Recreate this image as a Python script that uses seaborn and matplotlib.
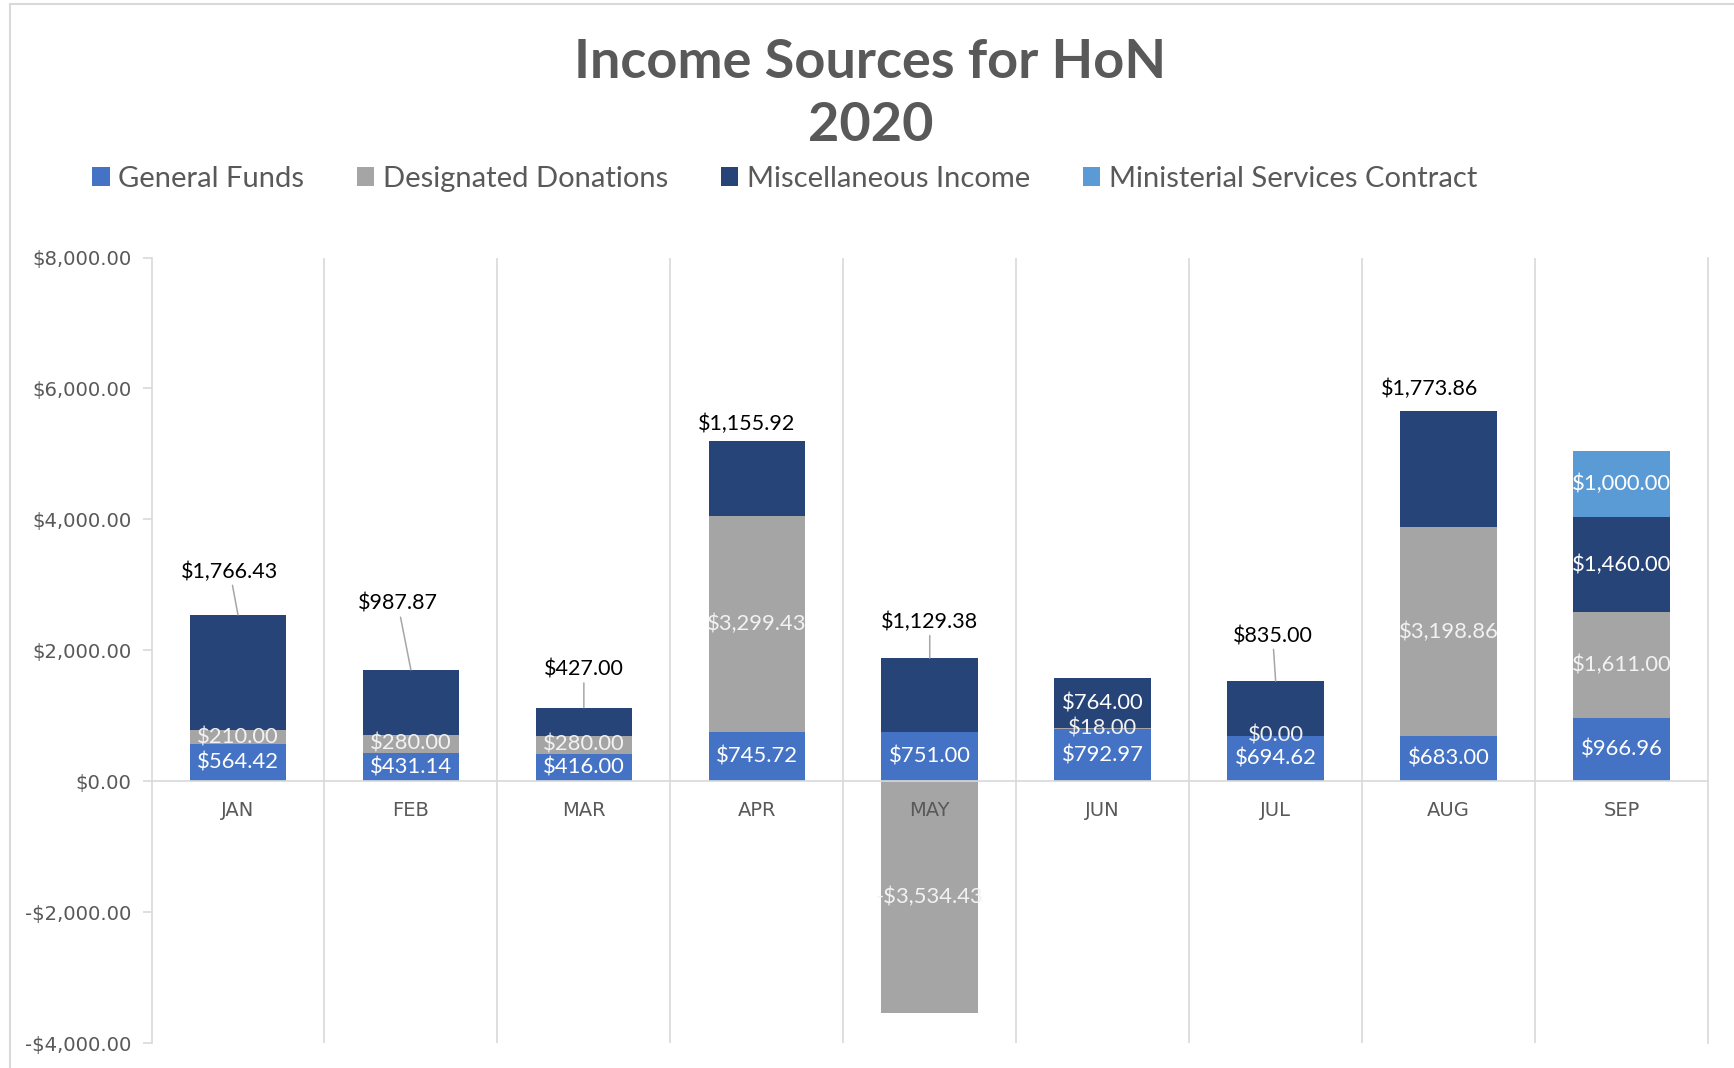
import numpy as np
import pandas as pd
import seaborn as sns
import matplotlib
matplotlib.use("Agg")
import matplotlib.pyplot as plt
from matplotlib.patches import Patch, Rectangle
from matplotlib.ticker import FuncFormatter, FixedLocator

# ---------------- data ----------------
months = ["JAN", "FEB", "MAR", "APR", "MAY", "JUN", "JUL", "AUG", "SEP"]
general_funds = [564.42, 431.14, 416.00, 745.72, 751.00, 792.97, 694.62, 683.00, 966.96]
designated_donations = [210.00, 280.00, 280.00, 3299.43, -3534.43, 18.00, 0.00, 3198.86, 1611.00]
misc_income = [1766.43, 987.87, 427.00, 1155.92, 1129.38, 764.00, 835.00, 1773.86, 1460.00]
ministerial = [None, None, None, None, None, None, None, None, 1000.00]

series_names = ["General Funds", "Designated Donations", "Miscellaneous Income",
                "Ministerial Services Contract"]
series_values = [general_funds, designated_donations, misc_income, ministerial]
series_colors = ["#4472C4", "#A5A5A5", "#264478", "#5B9BD5"]
label_colors = ["#FFFFFF", "#F2F2F2", "#FFFFFF", "#FFFFFF"]

# Misc income labels moved outside (offset px from bar top, leader line flag); None = inside
misc_outside = [(-8, 43, True), (-13, 66, True), (0, 38, True), (-10, 17, False),
                (0, 36, True), None, (-3, 45, True), (-19, 22, False), None]

# ---------------- style ----------------
sns.set_theme(style="white")
plt.rcParams["font.family"] = ["Lato", "DejaVu Sans"]

fig = plt.figure(figsize=(17.34, 10.68), dpi=100)
ax = fig.add_axes([151.5 / 1734, 1 - 1043 / 1068, (1708 - 151.5) / 1734, (1043 - 257.5) / 1068])

bar_w = 0.558
pos_bottom = np.zeros(len(months))
neg_bottom = np.zeros(len(months))
for name, vals, col, lcol in zip(series_names, series_values, series_colors, label_colors):
    v = np.array([np.nan if x is None else x for x in vals], dtype=float)
    vplot = np.nan_to_num(v)
    bottom = np.where(vplot >= 0, pos_bottom, neg_bottom)
    df = pd.DataFrame({"month": months, "value": vplot})
    sns.barplot(data=df, x="month", y="value", order=months, bottom=bottom,
                color=col, saturation=1, width=bar_w, errorbar=None,
                linewidth=0, ax=ax, zorder=1)
    for i, val in enumerate(v):
        if np.isnan(val):
            continue
        txt = f"${val:,.2f}" if val >= 0 else f"-${abs(val):,.2f}"
        top = bottom[i] + val
        if name == "Miscellaneous Income" and misc_outside[i] is not None:
            dx, dy, leader = misc_outside[i]
            ax.annotate(txt, xy=(i, top), xytext=(dx, dy), textcoords="offset pixels",
                        ha="center", va="center", fontsize=15.5, color="#000000",
                        zorder=4,
                        arrowprops=(dict(arrowstyle="-", color="#A6A6A6", lw=1.1,
                                         shrinkA=0, shrinkB=0) if leader else None))
        else:
            ax.text(i, bottom[i] + val / 2, txt, ha="center", va="center",
                    fontsize=15.8, color=lcol, zorder=4)
    pos_bottom = pos_bottom + np.where(vplot > 0, vplot, 0)
    neg_bottom = neg_bottom + np.where(vplot < 0, vplot, 0)

# ---------------- axes ----------------
ax.set_xlim(-0.5, len(months) - 0.5)
ax.set_ylim(-4000, 8000)
ax.set_yticks(np.arange(-4000, 8001, 2000))
ax.yaxis.set_major_formatter(FuncFormatter(
    lambda v, p: f"${v:,.2f}" if v >= 0 else f"-${abs(v):,.2f}"))
ax.set_xlabel("")
ax.set_ylabel("")

grid_col = "#D9D9D9"
ax.set_axisbelow(False)
ax.spines["top"].set_visible(False)
ax.spines["right"].set_visible(True)
ax.spines["right"].set_color(grid_col)
ax.spines["right"].set_linewidth(1.2)
ax.spines["left"].set_color(grid_col)
ax.spines["left"].set_linewidth(1.2)
ax.spines["bottom"].set_position(("data", 0))
ax.spines["bottom"].set_color(grid_col)
ax.spines["bottom"].set_linewidth(1.2)

ax.xaxis.set_minor_locator(FixedLocator(np.arange(0.5, len(months) - 1, 1.0)))
ax.grid(False)
ax.grid(True, which="minor", axis="x", color=grid_col, linewidth=1.2)

ax.tick_params(axis="x", which="both", length=0, pad=14, labelsize=14,
               labelcolor="#595959")
for lab in ax.get_xticklabels():
    lab.set_fontfamily(["DejaVu Sans"])
ax.tick_params(axis="y", which="major", left=True, length=6.5, width=1.2,
               color=grid_col, pad=8, labelsize=14.1, labelcolor="#595959")
for lab in ax.get_yticklabels():
    lab.set_fontfamily(["DejaVu Sans"])

# ---------------- title & legend ----------------
fig.suptitle("Income Sources for HoN\n2020", x=0.502, y=1 - 38 / 1068, va="top",
             fontsize=39, fontweight="bold", color="#595959", linespacing=1.34)

handles = [Patch(facecolor=c, edgecolor="none") for c in series_colors]
leg = fig.legend(handles, series_names, loc="center left",
                 bbox_to_anchor=(92 / 1734, 1 - 179 / 1068), ncol=4, frameon=False,
                 fontsize=21, labelcolor="#595959", handlelength=0.6, handleheight=0.6,
                 handletextpad=0.3, columnspacing=1.8, borderpad=0, borderaxespad=0)

# chart-area border
fig.add_artist(Rectangle((10 / 1734, -0.05), 1.2, 1 - 4 / 1068 + 0.05,
                         transform=fig.transFigure, fill=False,
                         edgecolor=grid_col, linewidth=1.5))

fig.savefig("out.png", dpi=100)
